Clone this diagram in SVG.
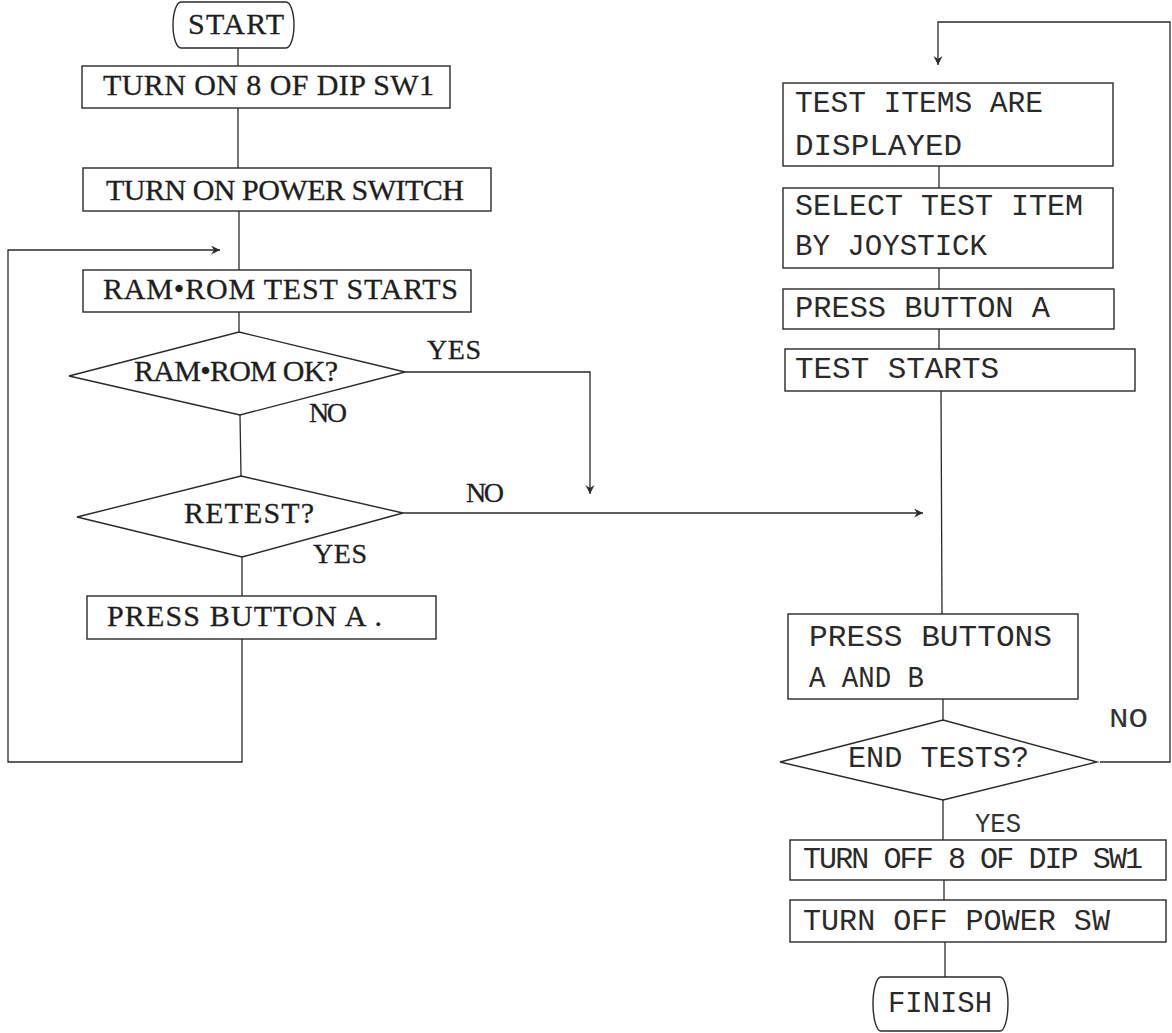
<svg xmlns="http://www.w3.org/2000/svg" width="1172" height="1033" viewBox="0 0 1172 1033">
  <defs>
    <style>
      .box { fill: none; stroke: #2a2a2a; stroke-width: 1.4; }
      .ln { fill: none; stroke: #2a2a2a; stroke-width: 1.3; }
      .ts { font-family: "Liberation Serif", "Times New Roman", serif; font-size: 30px; fill: #1e1e1e; stroke: #1e1e1e; stroke-width: 0.3; }
      .tm { font-family: "Liberation Mono", "Courier New", monospace; font-size: 30px; fill: #2a2a2a; }
      .lbl { font-family: "Liberation Serif", "Times New Roman", serif; font-size: 28px; fill: #1e1e1e; stroke: #1e1e1e; stroke-width: 0.3; }
      .lblm { font-family: "Liberation Mono", "Courier New", monospace; font-size: 27px; fill: #333; }
    </style>
    <marker id="arr" markerUnits="userSpaceOnUse" markerWidth="10" markerHeight="10" refX="9" refY="4.5" orient="auto">
      <path d="M0,0 L9,4.5 L0,9 L3,4.5 Z" fill="#2a2a2a"/>
    </marker>
  </defs>
  <rect width="1172" height="1033" fill="#ffffff"/>

  <g id="connectors">
    <line class="ln" x1="238" y1="48" x2="238" y2="66"/>
    <line class="ln" x1="238" y1="108" x2="238" y2="168"/>
    <line class="ln" x1="239" y1="211" x2="239" y2="270"/>
    <line class="ln" x1="239" y1="312" x2="239" y2="332"/>
    <line class="ln" x1="240" y1="415" x2="241" y2="476"/>
    <line class="ln" x1="242" y1="557" x2="242" y2="596"/>
    <polyline class="ln" points="242,639 242,762 8,762 8,250 220,250" marker-end="url(#arr)"/>
    <polyline class="ln" points="405,372 590,372 590,494" marker-end="url(#arr)"/>
    <line class="ln" x1="403" y1="513" x2="923" y2="513" marker-end="url(#arr)"/>
    <polyline class="ln" points="1100,762 1170,762 1170,22 938,22 938,65" marker-end="url(#arr)"/>
    <line class="ln" x1="939" y1="166" x2="939" y2="188"/>
    <line class="ln" x1="939" y1="268" x2="939" y2="289"/>
    <line class="ln" x1="939" y1="329" x2="939" y2="349"/>
    <line class="ln" x1="941" y1="391" x2="942" y2="614"/>
    <line class="ln" x1="943" y1="699" x2="943" y2="720"/>
    <line class="ln" x1="943" y1="800" x2="943" y2="840"/>
    <line class="ln" x1="944" y1="880" x2="944" y2="900"/>
    <line class="ln" x1="945" y1="942" x2="945" y2="977"/>
  </g>

  <g id="start">
    <path class="box" d="M181,2 H286 A8,23 0 0 1 286,48 H181 A8,23 0 0 1 181,2 Z"/>
    <text class="ts" x="188" y="34" textLength="96" lengthAdjust="spacing">START</text>
  </g>

  <g id="turn-on-dip">
    <rect class="box" x="82" y="66" width="368" height="42"/>
    <text class="ts" x="103" y="95" textLength="331" lengthAdjust="spacing">TURN ON 8 OF DIP SW1</text>
  </g>

  <g id="turn-on-power">
    <rect class="box" x="83" y="168" width="408" height="43"/>
    <text class="ts" x="106" y="200" textLength="358" lengthAdjust="spacing">TURN ON POWER SWITCH</text>
  </g>

  <g id="ram-rom-test">
    <rect class="box" x="83" y="270" width="388" height="42"/>
    <text class="ts" x="103" y="299" textLength="355" lengthAdjust="spacing">RAM•ROM TEST STARTS</text>
  </g>

  <g id="ram-rom-ok">
    <polygon class="box" points="239,332 405,372 240,415 69,376"/>
    <text class="ts" x="134" y="381" textLength="204" lengthAdjust="spacing">RAM•ROM OK?</text>
    <text class="lbl" x="427" y="359" textLength="54" lengthAdjust="spacing">YES</text>
    <text class="lbl" x="309" y="422" textLength="38" lengthAdjust="spacing">NO</text>
  </g>

  <g id="retest">
    <polygon class="box" points="241,476 403,513 242,557 77,517"/>
    <text class="ts" x="184" y="523" textLength="130" lengthAdjust="spacing">RETEST?</text>
    <text class="lbl" x="466" y="502" textLength="38" lengthAdjust="spacing">NO</text>
    <text class="lbl" x="313" y="563" textLength="54" lengthAdjust="spacing">YES</text>
  </g>

  <g id="press-button-a-left">
    <rect class="box" x="87" y="596" width="349" height="43"/>
    <text class="ts" x="107" y="626" textLength="275" lengthAdjust="spacing">PRESS BUTTON A .</text>
  </g>

  <g id="test-items-displayed">
    <rect class="box" x="783" y="83" width="330" height="83"/>
    <text class="tm" x="795" y="112" textLength="248" lengthAdjust="spacingAndGlyphs">TEST ITEMS ARE</text>
    <text class="tm" x="795" y="155" textLength="167" lengthAdjust="spacingAndGlyphs">DISPLAYED</text>
  </g>

  <g id="select-test-item">
    <rect class="box" x="783" y="188" width="330" height="80"/>
    <text class="tm" x="795" y="215" textLength="288" lengthAdjust="spacingAndGlyphs">SELECT TEST ITEM</text>
    <text class="tm" x="795" y="255" textLength="192" lengthAdjust="spacingAndGlyphs">BY JOYSTICK</text>
  </g>

  <g id="press-button-a-right">
    <rect class="box" x="783" y="289" width="331" height="40"/>
    <text class="tm" x="795" y="317" textLength="255" lengthAdjust="spacingAndGlyphs">PRESS BUTTON A</text>
  </g>

  <g id="test-starts">
    <rect class="box" x="785" y="349" width="350" height="42"/>
    <text class="tm" x="795" y="378" textLength="204" lengthAdjust="spacingAndGlyphs">TEST STARTS</text>
  </g>

  <g id="press-buttons-ab">
    <rect class="box" x="788" y="614" width="290" height="85"/>
    <text class="tm" x="809" y="646" textLength="243" lengthAdjust="spacingAndGlyphs">PRESS BUTTONS</text>
    <text class="tm" x="809" y="687" textLength="115" lengthAdjust="spacingAndGlyphs">A AND B</text>
  </g>

  <g id="end-tests">
    <polygon class="box" points="943,720 1097,762 943,800 780,762"/>
    <text class="tm" x="848" y="767" textLength="181" lengthAdjust="spacingAndGlyphs">END TESTS?</text>
    <text class="lblm" x="1109" y="727" textLength="39" lengthAdjust="spacingAndGlyphs">NO</text>
    <text class="lblm" x="975" y="832" font-size="25" textLength="46" lengthAdjust="spacingAndGlyphs">YES</text>
  </g>

  <g id="turn-off-dip">
    <rect class="box" x="790" y="840" width="376" height="40"/>
    <text class="tm" x="803" y="868" font-size="26" textLength="340" lengthAdjust="spacing">TURN OFF 8 OF DIP SW1</text>
  </g>

  <g id="turn-off-power">
    <rect class="box" x="790" y="900" width="376" height="42"/>
    <text class="tm" x="803" y="930" font-size="29" textLength="307" lengthAdjust="spacingAndGlyphs">TURN OFF POWER SW</text>
  </g>

  <g id="finish">
    <path class="box" d="M881,977 H1000 A8,27 0 0 1 1000,1031 H881 A8,27 0 0 1 881,977 Z"/>
    <text class="tm" x="888" y="1012" textLength="104" lengthAdjust="spacingAndGlyphs">FINISH</text>
  </g>
</svg>
